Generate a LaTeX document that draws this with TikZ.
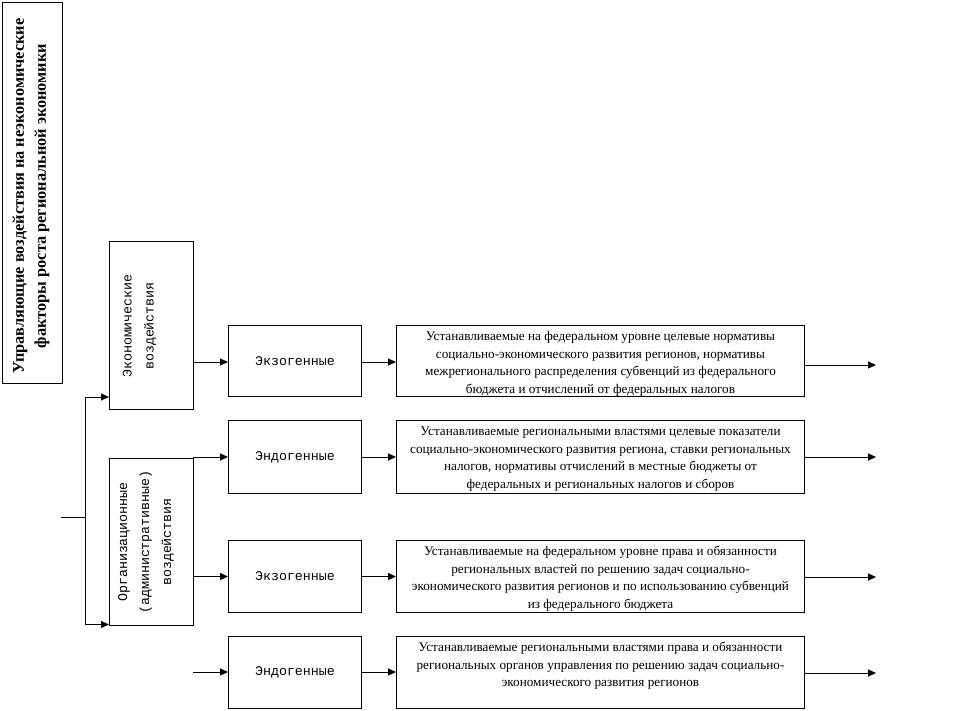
\documentclass[tikz,border=0pt]{standalone}
\usepackage{fontspec}
\setmainfont{Liberation Serif}
\newfontfamily\monofont{Liberation Mono}
\usetikzlibrary{arrows.meta}
\tikzset{
  box/.style={draw, line width=1pt, inner sep=0pt, anchor=north west},
  smallbox/.style={box, minimum width=133pt, font=\monofont\fontsize{13.3}{16}\selectfont},
  arr/.style={line width=1pt, -{Triangle[length=8pt,width=7pt]}},
  ln/.style={line width=1pt},
  vtext/.style={rotate=90, align=center, inner sep=0pt, font=\monofont\fontsize{13.3}{22}\selectfont},
  txt/.style={font=\fontsize{13.2}{17.7}\selectfont}
}
\newcommand{\tbox}[2]{\parbox[c][#1][t]{408pt}{\centering\rule{0pt}{15pt}#2}}
\begin{document}
\begin{tikzpicture}[x=1pt,y=-1pt]
\useasboundingbox[fill=white] (0,0) rectangle (974,710);
% title
\node[box, minimum width=60pt, minimum height=381pt] (title) at (2,2) {};
\node[rotate=90, align=center, inner sep=0pt, font=\bfseries\fontsize{16.3}{22}\selectfont] (titlet) at (31,196)
  {Управляющие воздействия на неэкономические\\факторы роста региональной экономики};
% left column boxes
\node[box, minimum width=84pt, minimum height=168pt] (econ) at (109,241) {};
\node[vtext] (econt) at (139.5,326) {Экономические\\воздействия};
\node[box, minimum width=84pt, minimum height=167pt] (org) at (109,458) {};
\node[vtext] (orgt) at (146,542) {Организационные\\(административные)\\воздействия};
% small boxes
\node[smallbox, minimum height=71pt] (exo1) at (228,325) {Экзогенные};
\node[smallbox, minimum height=73pt] (endo1) at (228,420) {Эндогенные};
\node[smallbox, minimum height=72pt] (exo2) at (228,540) {Экзогенные};
\node[smallbox, minimum height=72pt] (endo2) at (228,636) {Эндогенные};
% text boxes
\node[box, txt] (t1) at (396,325) {\tbox{71pt}{Устанавливаемые на федеральном уровне целевые нормативы\\социально-экономического развития регионов, нормативы\\межрегионального распределения субвенций из федерального\\бюджета и отчислений от федеральных налогов}};
\node[box, txt] (t2) at (396,420) {\tbox{73pt}{Устанавливаемые региональными властями целевые показатели\\социально-экономического развития региона, ставки региональных\\налогов, нормативы отчислений в местные бюджеты от\\федеральных и региональных налогов и сборов}};
\node[box, txt] (t3) at (396,540) {\tbox{72pt}{Устанавливаемые на федеральном уровне права и обязанности\\региональных властей по решению задач социально-\\экономического развития регионов и по использованию субвенций\\из федерального бюджета}};
\node[box, txt] (t4) at (396,636) {\tbox{72pt}{Устанавливаемые региональными властями права и обязанности\\региональных органов управления по решению задач социально-\\экономического развития регионов}};
% bracket
\coordinate (bt) at (85.5,397);
\coordinate (bb) at (85.5,624.5);
\coordinate (bm) at (85.5,517);
\coordinate (stub) at (61,517);
\draw[ln] (bt) -- (bb);
\draw[ln] (stub) -- (bm);
\draw[arr] (bt) -- (bt -| econ.west);
\draw[arr] (bb) -- (bb -| org.west);
% to small boxes
\coordinate (e1) at (193,362);
\draw[arr] (e1) -- (e1 -| exo1.west);
\coordinate (n1) at (193,457);
\draw[arr] (n1) -- (n1 -| endo1.west);
\draw[arr] (org.east |- exo2.west) -- (exo2.west);
\coordinate (n2) at (193,672);
\draw[arr] (n2) -- (n2 -| endo2.west);
% to text boxes
\draw[arr] (exo1.east |- e1) -- (e1 -| t1.west);
\draw[arr] (endo1.east |- n1) -- (n1 -| t2.west);
\draw[arr] (exo2.east) -- (t3.west);
\draw[arr] (endo2.east |- n2) -- (n2 -| t4.west);
% outputs
\coordinate (o1) at (876,365);
\coordinate (o2) at (876,457);
\coordinate (o3) at (876,577);
\coordinate (o4) at (876,673);
\draw[arr] (t1.east |- o1) -- (o1);
\draw[arr] (t2.east |- o2) -- (o2);
\draw[arr] (t3.east |- o3) -- (o3);
\draw[arr] (t4.east |- o4) -- (o4);
\end{tikzpicture}
\end{document}
